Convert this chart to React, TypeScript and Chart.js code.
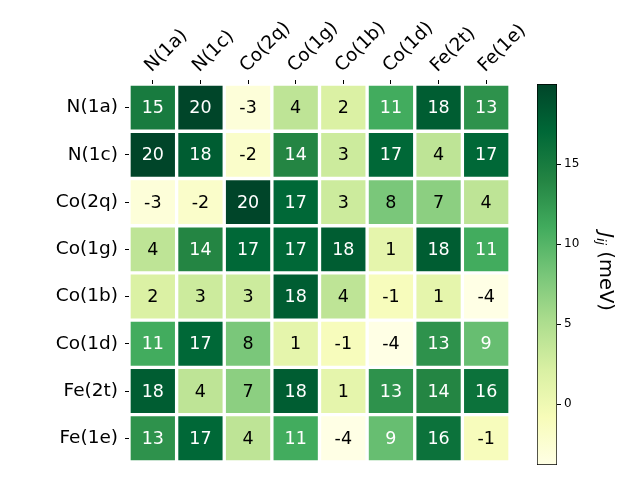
import React, { useEffect, useRef } from 'react';
import { Chart, registerables } from 'chart.js';

Chart.register(...registerables);

// ---- data ----
const siteLabels = ['N(1a)', 'N(1c)', 'Co(2q)', 'Co(1g)', 'Co(1b)', 'Co(1d)', 'Fe(2t)', 'Fe(1e)'];
const rowN1a = [15, 20, -3, 4, 2, 11, 18, 13];
const rowN1c = [20, 18, -2, 14, 3, 17, 4, 17];
const rowCo2q = [-3, -2, 20, 17, 3, 8, 7, 4];
const rowCo1g = [4, 14, 17, 17, 18, 1, 18, 11];
const rowCo1b = [2, 3, 3, 18, 4, -1, 1, -4];
const rowCo1d = [11, 17, 8, 1, -1, -4, 13, 9];
const rowFe2t = [18, 4, 7, 18, 1, 13, 14, 16];
const rowFe1e = [13, 17, 4, 11, -4, 9, 16, -1];
const matrix = [rowN1a, rowN1c, rowCo2q, rowCo1g, rowCo1b, rowCo1d, rowFe2t, rowFe1e];

const cbarMin = -3.8;
const cbarMax = 20.0;
const cbarTicks = [0, 5, 10, 15];

// YlGn colormap
const YLGN = ['#ffffe5', '#f7fcb9', '#d9f0a3', '#addd8e', '#78c679', '#41ab5d', '#238443', '#006837', '#004529'];
const FONT = "'DejaVu Sans', sans-serif";

function hexToRgb(h: string) {
  return [parseInt(h.slice(1, 3), 16), parseInt(h.slice(3, 5), 16), parseInt(h.slice(5, 7), 16)];
}
const YLGN_RGB = YLGN.map(hexToRgb);

function norm(v: number) {
  const t = (v - cbarMin) / (cbarMax - cbarMin);
  return Math.max(0, Math.min(1, t));
}
function cmap(t: number) {
  const n = YLGN_RGB.length - 1;
  const x = t * n;
  const i = Math.min(n - 1, Math.floor(x));
  const f = x - i;
  const a = YLGN_RGB[i];
  const b = YLGN_RGB[i + 1];
  const c = a.map((av, k) => Math.round(av + (b[k] - av) * f));
  return `rgb(${c[0]},${c[1]},${c[2]})`;
}
const colorFor = (v: number) => cmap(norm(v));

const cellText = {
  id: 'cellText',
  afterDatasetsDraw(chart: any) {
    const ctx = chart.ctx;
    ctx.save();
    ctx.font = `17.5px ${FONT}`;
    ctx.textAlign = 'center';
    ctx.textBaseline = 'middle';
    chart.data.datasets.forEach((_ds: any, r: number) => {
      const meta = chart.getDatasetMeta(r);
      meta.data.forEach((bar: any, c: number) => {
        const p = bar.getProps(['x', 'y', 'base'], true);
        const v = matrix[r][c];
        ctx.fillStyle = norm(v) > 0.5 ? '#ffffff' : '#000000';
        ctx.fillText(String(v), p.x, (p.y + p.base) / 2 + 1);
      });
    });
    ctx.restore();
  },
};

const cbarTitle = {
  id: 'cbarTitle',
  afterDraw(chart: any) {
    const ctx = chart.ctx;
    const area = chart.chartArea;
    const cx = area.right + 48;
    const cy = (area.top + area.bottom) / 2 - 3;
    const big = 19.5;
    const small = 13;
    ctx.save();
    ctx.translate(cx, cy);
    ctx.rotate(Math.PI / 2);
    ctx.fillStyle = '#000';
    ctx.textBaseline = 'middle';
    ctx.textAlign = 'left';
    ctx.font = `italic ${big}px ${FONT}`;
    const wJ = ctx.measureText('J').width;
    ctx.font = `italic ${small}px ${FONT}`;
    const wij = ctx.measureText('ij').width;
    ctx.font = `${big}px ${FONT}`;
    const wRest = ctx.measureText(' (meV)').width;
    const total = wJ + wij + wRest;
    let x = -total / 2;
    ctx.font = `italic ${big}px ${FONT}`;
    ctx.fillText('J', x, 0);
    x += wJ;
    ctx.font = `italic ${small}px ${FONT}`;
    ctx.fillText('ij', x, 5);
    x += wij;
    ctx.font = `${big}px ${FONT}`;
    ctx.fillText(' (meV)', x, 0);
    ctx.restore();
  },
};

export default function App() {
  const heatRef = useRef<HTMLCanvasElement>(null);
  const cbarRef = useRef<HTMLCanvasElement>(null);

  useEffect(() => {
    const datasets = matrix.map((row, r) => ({
      label: siteLabels[r],
      data: row.map(() => [r, r + 1]),
      backgroundColor: row.map(colorFor),
      borderColor: '#ffffff',
      borderWidth: 2,
      borderSkipped: false,
      grouped: false,
      categoryPercentage: 1,
      barPercentage: 1,
    }));

    const heat = new Chart(heatRef.current as HTMLCanvasElement, {
      type: 'bar',
      data: { labels: siteLabels, datasets: datasets as any },
      options: {
        responsive: false,
        animation: false,
        devicePixelRatio: 1,
        layout: { padding: { left: 0, top: 0, right: 130, bottom: 15 } },
        plugins: { legend: { display: false }, tooltip: { enabled: false } },
        scales: {
          x: {
            type: 'category',
            position: 'top',
            offset: true,
            grid: { offset: false, drawOnChartArea: false, drawTicks: true, tickLength: 4, color: '#000' },
            border: { display: false },
            ticks: {
              minRotation: 45,
              maxRotation: 45,
              autoSkip: false,
              padding: 3,
              labelOffset: 11,
              color: '#000',
              font: { family: FONT, size: 18.5 },
            },
            afterFit: (s: any) => {
              s.height = 84;
            },
          },
          y: {
            type: 'linear',
            min: 0,
            max: 8,
            reverse: true,
            grid: { drawOnChartArea: false, drawTicks: true, tickLength: 4, color: '#000' },
            border: { display: false },
            afterBuildTicks: (s: any) => {
              s.ticks = siteLabels.map((_l, i) => ({ value: i + 0.5 }));
            },
            ticks: {
              padding: 7,
              color: '#000',
              font: { family: FONT, size: 18.5 },
              callback: (v: any) => siteLabels[Math.floor(Number(v))],
            },
            afterFit: (s: any) => {
              s.width = 129;
            },
          },
        },
      },
      plugins: [cellText],
    });

    const cbar = new Chart(cbarRef.current as HTMLCanvasElement, {
      type: 'bar',
      data: {
        labels: [''],
        datasets: [
          {
            data: [[cbarMin, cbarMax]],
            backgroundColor: (c: any) => {
              const chart = c.chart;
              const ys = chart.scales && chart.scales.y;
              if (!chart.chartArea || !ys) return YLGN[4];
              const g = chart.ctx.createLinearGradient(0, ys.getPixelForValue(cbarMin), 0, ys.getPixelForValue(cbarMax));
              YLGN.forEach((col, i) => g.addColorStop(i / (YLGN.length - 1), col));
              return g;
            },
            borderColor: '#000',
            borderWidth: 1,
            borderSkipped: false,
            categoryPercentage: 1,
            barPercentage: 1,
          } as any,
        ],
      },
      options: {
        responsive: false,
        animation: false,
        devicePixelRatio: 1,
        layout: { padding: { left: 537, top: 84, right: 0, bottom: 15 } },
        plugins: { legend: { display: false }, tooltip: { enabled: false } },
        scales: {
          x: { display: false },
          y: {
            type: 'linear',
            position: 'right',
            min: cbarMin,
            max: cbarMax,
            grid: { drawOnChartArea: false, drawTicks: true, tickLength: 4, color: '#000' },
            border: { display: false },
            afterBuildTicks: (s: any) => {
              s.ticks = cbarTicks.map((v) => ({ value: v }));
            },
            ticks: {
              padding: 3,
              color: '#000',
              font: { family: FONT, size: 12 },
            },
            afterFit: (s: any) => {
              s.width = 83;
            },
          },
        },
      },
      plugins: [cbarTitle],
    });

    return () => {
      heat.destroy();
      cbar.destroy();
    };
  }, []);

  return (
    <div style={{ position: 'fixed', left: 0, top: 0, width: 640, height: 480, background: '#fff' }}>
      <canvas ref={heatRef} width={640} height={480} style={{ position: 'absolute', left: 0, top: 0, width: 640, height: 480 }} />
      <canvas ref={cbarRef} width={640} height={480} style={{ position: 'absolute', left: 0, top: 0, width: 640, height: 480 }} />
    </div>
  );
}
